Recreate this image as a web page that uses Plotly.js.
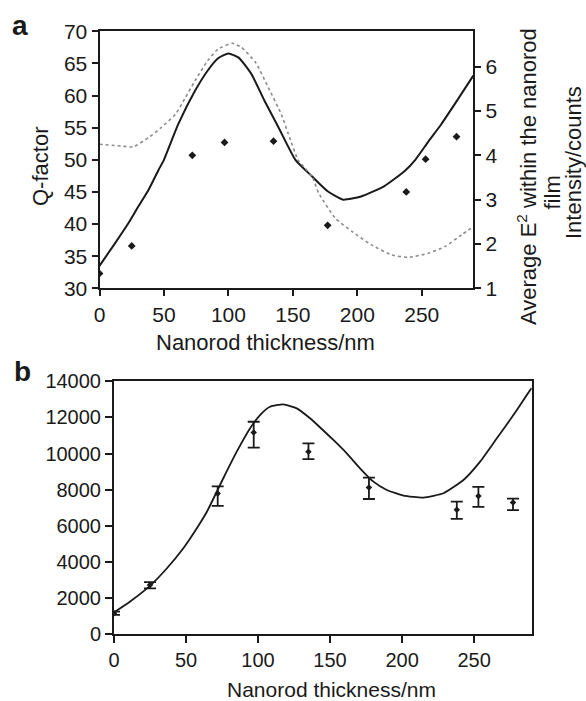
<!DOCTYPE html>
<html>
<head>
<meta charset="utf-8">
<script src="https://cdn.plot.ly/plotly-3.0.1.min.js"></script>
<style>html,body{margin:0;padding:0;background:#fff;}#chart{width:586px;height:701px;}</style>
</head>
<body>
<div id="chart"></div>
<script>
// ---- Panel a data ----
const thickness = [0, 25, 72, 97, 135, 177, 238, 253, 277];
const qMeasured = [32.3, 36.6, 50.7, 52.7, 52.9, 39.8, 45.0, 50.1, 53.6];

const qSimX = [0, 12, 22, 30, 38, 46, 50, 61, 74, 84, 92, 100, 108, 118, 128, 139, 152, 165, 177, 189, 203, 221, 237, 245, 255, 265, 278, 290];
const qSimY = [33.5, 37.0, 40.0, 42.7, 45.3, 48.5, 50.0, 55.5, 60.7, 63.9, 65.8, 66.55, 65.9, 63.3, 59.2, 55.0, 50.0, 47.4, 45.1, 43.8, 44.3, 45.9, 48.3, 50.0, 52.8, 55.5, 59.4, 63.1];

const e2X = [0, 17, 26, 38, 48, 59, 66, 74, 84, 92, 103, 110, 121, 131, 141, 148, 154, 165, 170, 183, 196, 211, 227, 240, 255, 268, 281, 290];
const e2Y = [4.25, 4.21, 4.19, 4.40, 4.63, 4.93, 5.27, 5.68, 6.14, 6.40, 6.53, 6.44, 6.10, 5.53, 4.93, 4.36, 3.90, 3.52, 3.15, 2.58, 2.28, 1.98, 1.75, 1.70, 1.79, 1.94, 2.21, 2.39];

// ---- Panel b data ----
const intensity = [1145, 2710, 7780, 11170, 10100, 8110, 6880, 7650, 7280];
const errPlus = [90, 160, 400, 590, 460, 550, 450, 500, 220];
const errMinus = [90, 180, 680, 850, 410, 630, 500, 610, 420];

const fitX = [0, 11, 25.5, 36.6, 48, 57.4, 64.4, 75.9, 85.2, 94.4, 101.4, 108.3, 117.6, 126.9, 136.1, 145, 152.3, 161.6, 170.8, 180.1, 189.4, 200.9, 214.8, 228.7, 242.6, 254.2, 265.8, 277.3, 288.9, 290];
const fitY = [1200, 1790, 2710, 3630, 4740, 5850, 6760, 8630, 10100, 11390, 12130, 12590, 12720, 12500, 11950, 11300, 10750, 10010, 9180, 8440, 7980, 7670, 7560, 7800, 8530, 9550, 10840, 12130, 13510, 13620];

const xTicks = [0, 50, 100, 150, 200, 250];

const W = 586, H = 701;
const px = v => v / W;
const py = v => 1 - v / H;
const ink = '#1a1a1a';
const FONT = 'Liberation Sans, Arial, sans-serif';

const traces = [
  {x: qSimX, y: qSimY, xaxis: 'x', yaxis: 'y', mode: 'lines', line: {color: ink, width: 2, shape: 'spline', smoothing: 0.5}, name: 'Q-factor (calc.)'},
  {x: e2X, y: e2Y, xaxis: 'x', yaxis: 'y2', mode: 'lines', line: {color: '#8a8a8a', width: 1.6, dash: 'dot', shape: 'spline', smoothing: 0.5}, name: 'Average E²'},
  {x: thickness, y: qMeasured, xaxis: 'x', yaxis: 'y', mode: 'markers', marker: {symbol: 'diamond', size: 6, color: ink}, name: 'Q-factor (meas.)'},
  {x: fitX, y: fitY, xaxis: 'x2', yaxis: 'y3', mode: 'lines', line: {color: ink, width: 1.8, shape: 'spline', smoothing: 0.5}, name: 'Calc. intensity'},
  {x: thickness, y: intensity, xaxis: 'x2', yaxis: 'y3', mode: 'markers', marker: {symbol: 'diamond', size: 5, color: ink},
   error_y: {type: 'data', symmetric: false, array: errPlus, arrayminus: errMinus, color: ink, thickness: 1.8, width: 6}, name: 'Intensity'}
];

const axCommon = {showgrid: false, zeroline: false, showline: true, linecolor: ink, linewidth: 2, ticks: 'outside', tickcolor: ink, tickwidth: 2, ticklen: 6, tickfont: {family: FONT, size: 21, color: ink}};

const layout = {
  width: W, height: H,
  margin: {l: 0, r: 0, t: 0, b: 0, pad: 0},
  paper_bgcolor: '#fff', plot_bgcolor: '#fff',
  showlegend: false,
  xaxis: Object.assign({}, axCommon, {domain: [px(99.5), px(473.3)], anchor: 'y', range: [0, 290], tickvals: xTicks, mirror: true}),
  yaxis: Object.assign({}, axCommon, {domain: [py(288.3), py(31.3)], anchor: 'x', range: [30, 70], dtick: 5}),
  yaxis2: Object.assign({}, axCommon, {overlaying: 'y', side: 'right', anchor: 'x', range: [1, 6.8], dtick: 1, tick0: 1}),
  xaxis2: Object.assign({}, axCommon, {domain: [px(114), px(531.7)], anchor: 'y3', range: [0, 290], tickvals: xTicks, mirror: true, ticklen: 7, tickfont: {family: FONT, size: 20, color: ink}}),
  yaxis3: Object.assign({}, axCommon, {domain: [py(634), py(381.3)], anchor: 'x2', range: [0, 14000], dtick: 2000, tickformat: 'd', mirror: true, ticklen: 7, tickfont: {family: FONT, size: 20, color: ink}}),
  annotations: [
    {text: '<b>a</b>', x: px(20), y: py(25), xref: 'paper', yref: 'paper', showarrow: false, xanchor: 'center', yanchor: 'middle', font: {family: FONT, size: 28, color: ink}},
    {text: '<b>b</b>', x: px(22), y: py(371), xref: 'paper', yref: 'paper', showarrow: false, xanchor: 'center', yanchor: 'middle', font: {family: FONT, size: 28, color: ink}},
    {text: 'Nanorod thickness/nm', x: px(265.5), y: py(343), xref: 'paper', yref: 'paper', showarrow: false, xanchor: 'center', yanchor: 'middle', font: {family: FONT, size: 22, color: ink}},
    {text: 'Q-factor', x: px(40), y: py(167), xref: 'paper', yref: 'paper', showarrow: false, textangle: -90, xanchor: 'center', yanchor: 'middle', font: {family: FONT, size: 22, color: ink}},
    {text: 'Average E<sup>2</sup> within the nanorod', x: px(527), y: py(177), xref: 'paper', yref: 'paper', showarrow: false, textangle: -90, xanchor: 'center', yanchor: 'middle', font: {family: FONT, size: 22, color: ink}},
    {text: 'film', x: px(551.5), y: py(193), xref: 'paper', yref: 'paper', showarrow: false, textangle: -90, xanchor: 'center', yanchor: 'middle', font: {family: FONT, size: 22, color: ink}},
    {text: 'Intensity/counts', x: px(573), y: py(163), xref: 'paper', yref: 'paper', showarrow: false, textangle: -90, xanchor: 'center', yanchor: 'middle', font: {family: FONT, size: 22, color: ink}},
    {text: 'Nanorod thickness/nm', x: px(331.7), y: py(689), xref: 'paper', yref: 'paper', showarrow: false, xanchor: 'center', yanchor: 'middle', font: {family: FONT, size: 21, color: ink}}
  ]
};

Plotly.newPlot('chart', traces, layout, {displayModeBar: false, staticPlot: true});
</script>
</body>
</html>
